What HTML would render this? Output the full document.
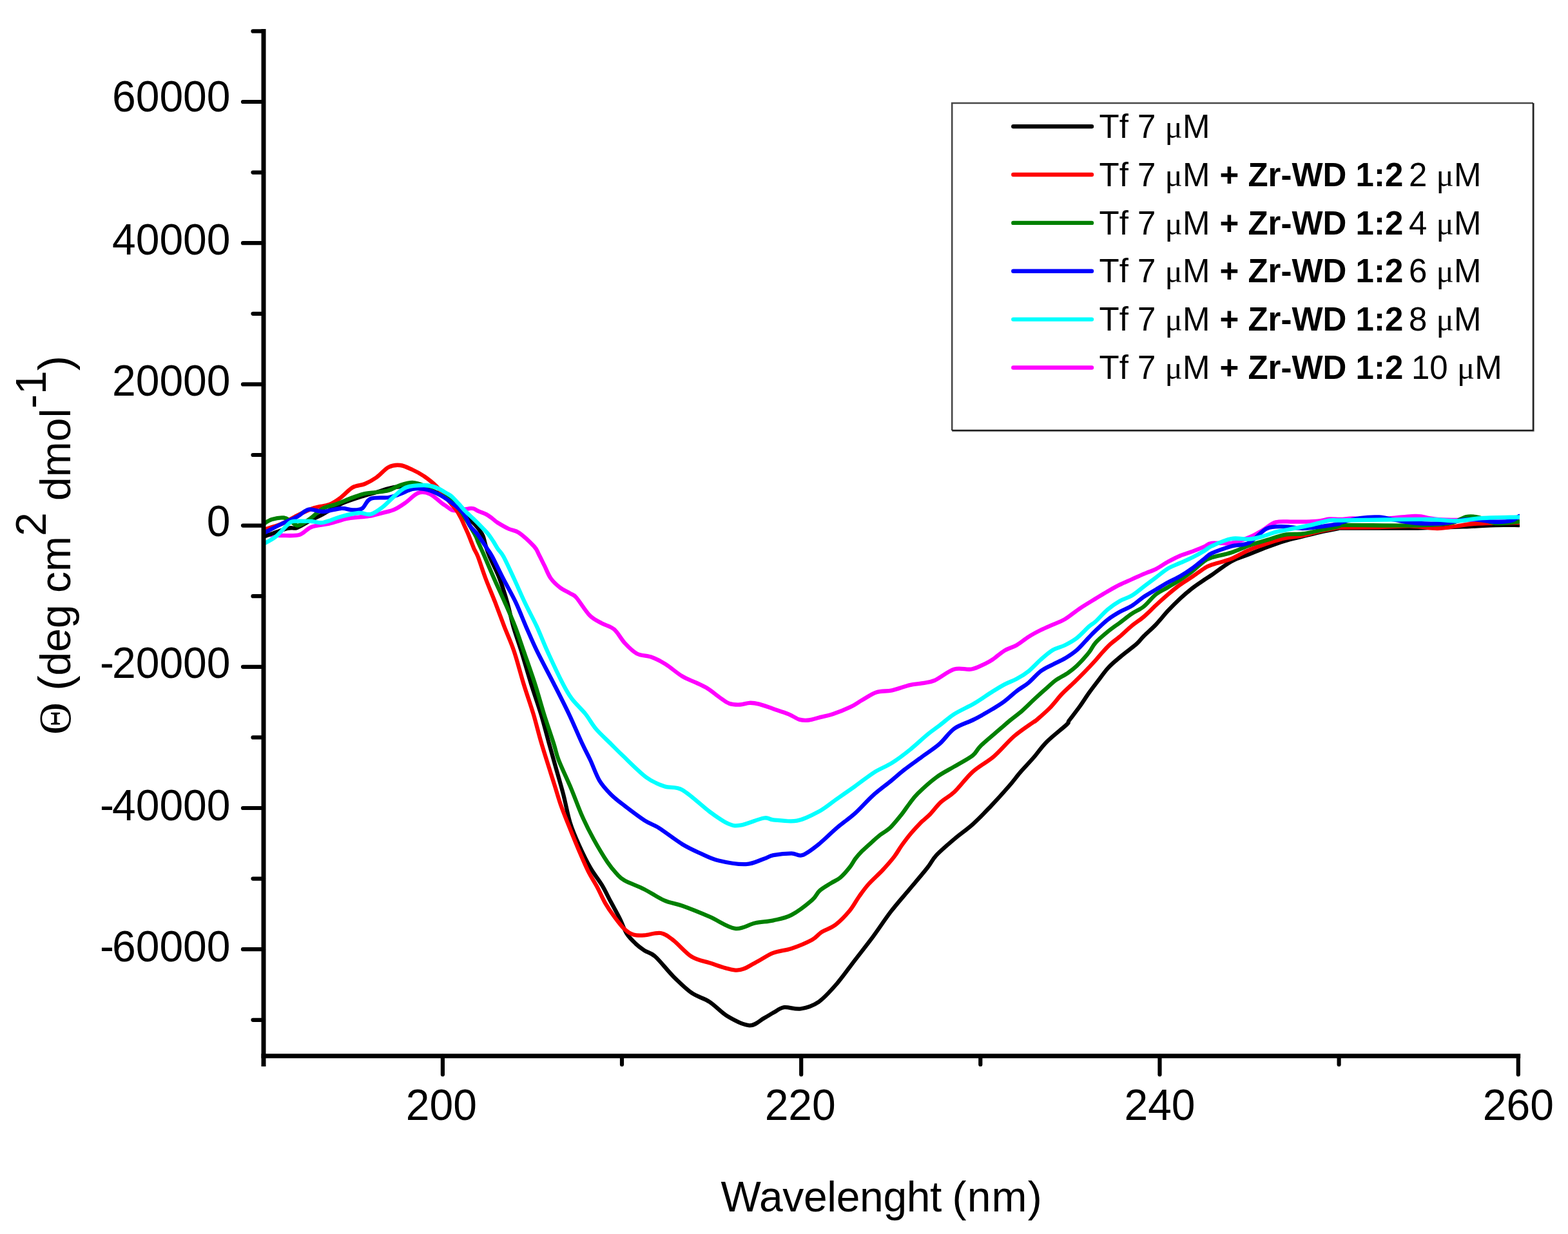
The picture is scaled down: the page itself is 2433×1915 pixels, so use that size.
<!DOCTYPE html><html><head><meta charset="utf-8"><title>CD spectra</title><style>
html,body{margin:0;padding:0;background:#fff;}
body{width:2433px;height:1915px;overflow:hidden;}
svg{display:block;}
.t{font-family:"Liberation Sans",Arial,sans-serif;fill:#000;}
.s{font-family:"Liberation Serif","Times New Roman",serif;}
</style></head><body>
<svg width="2433" height="1915" viewBox="0 0 2433 1915">
<rect x="0" y="0" width="2433" height="1915" fill="#fff"/>
<defs><clipPath id="pc"><rect x="409.0" y="45.0" width="1949.0" height="1593.8"/></clipPath></defs>
<g clip-path="url(#pc)" fill="none" stroke-width="6.3" stroke-linejoin="round" stroke-linecap="round">
<path stroke="#ff00ff" d="M409.0,829.0 C411.2,829.2 417.3,830.2 422.0,830.5 C426.7,830.8 429.9,831.1 437.0,831.0 C444.1,830.9 456.8,832.2 464.5,830.0 C472.2,827.8 475.3,820.9 483.0,818.0 C490.7,815.1 501.4,814.9 510.6,812.7 C519.8,810.5 530.3,806.7 538.0,805.0 C545.7,803.3 550.5,803.3 556.7,802.6 C562.9,801.9 568.9,801.8 575.0,800.7 C581.1,799.6 587.3,797.7 593.5,796.0 C599.7,794.3 605.9,793.4 612.0,790.6 C618.1,787.9 623.8,783.8 630.0,779.5 C636.2,775.2 642.8,767.1 649.0,765.0 C655.2,762.9 660.9,763.9 667.0,766.6 C673.1,769.3 681.4,777.8 685.7,781.0 C690.0,784.2 690.2,784.0 692.9,785.8 C695.6,787.6 698.5,790.7 701.7,791.7 C704.9,792.7 707.7,792.4 712.0,792.0 C716.3,791.6 723.5,789.8 727.3,789.3 C731.0,788.8 731.9,788.6 734.5,789.3 C737.1,790.0 739.4,791.9 742.7,793.4 C746.0,794.9 751.0,796.3 754.4,798.1 C757.8,799.9 760.3,801.9 763.2,804.0 C766.1,806.1 767.5,808.2 772.0,811.0 C776.5,813.8 784.4,818.4 790.0,821.0 C795.6,823.6 798.9,822.3 805.4,826.8 C811.9,831.3 823.7,842.5 828.8,848.0 C833.9,853.5 833.2,854.9 835.9,860.0 C838.6,865.1 842.1,872.5 845.2,878.7 C848.3,885.0 850.7,892.0 854.6,897.5 C858.5,903.0 863.6,907.6 868.6,911.5 C873.6,915.4 880.3,918.2 884.6,920.9 C888.9,923.6 889.2,921.7 894.4,927.5 C899.5,933.3 908.9,949.0 915.5,955.6 C922.1,962.2 928.0,963.9 934.2,967.4 C940.5,970.9 947.1,971.6 953.0,976.7 C958.9,981.8 963.5,991.5 969.3,997.8 C975.1,1004.0 981.0,1010.5 988.0,1014.2 C995.0,1017.9 1004.1,1017.3 1011.5,1020.0 C1018.9,1022.7 1024.8,1025.7 1032.6,1030.6 C1040.4,1035.5 1050.4,1044.5 1058.3,1049.3 C1066.2,1054.1 1073.3,1056.2 1080.0,1059.4 C1086.7,1062.6 1092.2,1064.9 1098.4,1068.7 C1104.6,1072.5 1111.4,1078.7 1116.9,1082.5 C1122.4,1086.3 1126.4,1089.9 1131.6,1091.7 C1136.8,1093.5 1143.0,1093.7 1148.2,1093.5 C1153.4,1093.3 1158.1,1091.0 1163.0,1090.8 C1167.9,1090.6 1171.6,1091.1 1177.7,1092.6 C1183.8,1094.1 1192.1,1097.4 1199.8,1100.0 C1207.5,1102.6 1217.0,1105.5 1223.8,1108.3 C1230.6,1111.1 1235.2,1115.1 1240.4,1116.6 C1245.6,1118.1 1249.6,1118.1 1255.1,1117.5 C1260.6,1116.9 1267.3,1114.4 1273.5,1112.9 C1279.7,1111.4 1284.3,1110.9 1292.0,1108.3 C1299.7,1105.7 1311.9,1100.9 1319.6,1097.2 C1327.3,1093.5 1331.2,1090.0 1338.0,1086.2 C1344.8,1082.4 1352.5,1076.7 1360.2,1074.2 C1367.9,1071.7 1375.5,1073.2 1384.1,1071.4 C1392.7,1069.6 1404.1,1064.9 1411.8,1063.1 C1419.5,1061.3 1423.8,1061.6 1430.2,1060.4 C1436.6,1059.2 1441.6,1059.7 1450.0,1056.0 C1458.4,1052.3 1471.1,1041.4 1480.7,1038.5 C1490.3,1035.6 1499.5,1039.9 1507.4,1038.5 C1515.3,1037.1 1522.5,1032.8 1527.9,1030.3 C1533.3,1027.8 1534.9,1027.2 1540.0,1023.7 C1545.1,1020.2 1552.5,1013.4 1558.7,1009.6 C1565.0,1005.9 1571.2,1004.8 1577.5,1001.2 C1583.8,997.6 1590.0,992.0 1596.2,988.1 C1602.4,984.2 1608.7,980.9 1614.9,977.8 C1621.1,974.7 1627.3,972.2 1633.6,969.4 C1639.8,966.6 1645.4,965.1 1652.4,960.9 C1659.4,956.7 1667.5,949.6 1675.4,944.3 C1683.3,939.0 1692.8,933.4 1700.0,929.0 C1707.2,924.6 1712.5,921.3 1718.7,917.7 C1725.0,914.1 1731.2,910.5 1737.5,907.4 C1743.8,904.3 1750.0,901.8 1756.2,899.0 C1762.4,896.2 1768.7,893.2 1774.9,890.6 C1781.1,888.0 1787.3,886.2 1793.6,883.1 C1799.8,880.0 1806.2,875.2 1812.4,871.8 C1818.7,868.4 1824.9,865.1 1831.1,862.5 C1837.3,859.9 1843.6,858.2 1849.8,855.9 C1856.0,853.5 1863.5,850.6 1868.5,848.4 C1873.5,846.2 1873.0,843.7 1880.0,842.8 C1887.0,841.9 1900.9,844.4 1910.6,842.9 C1920.3,841.4 1930.2,837.2 1938.3,833.9 C1946.4,830.6 1952.1,826.8 1959.0,822.9 C1965.9,819.0 1971.6,812.6 1979.7,810.4 C1987.8,808.2 1997.0,809.9 2007.4,809.7 C2017.8,809.5 2032.8,809.7 2042.0,809.0 C2051.2,808.3 2056.4,806.0 2062.7,805.5 C2069.0,805.0 2073.8,806.2 2080.0,806.0 C2086.2,805.8 2091.7,804.4 2100.0,804.5 C2108.3,804.6 2114.2,807.1 2130.0,806.5 C2145.8,805.9 2180.8,801.5 2195.0,801.0 C2209.2,800.5 2209.2,802.7 2215.0,803.5 C2220.8,804.3 2222.5,805.4 2230.0,806.0 C2237.5,806.6 2238.8,807.0 2260.0,807.0 C2281.2,807.0 2340.8,806.2 2357.0,806.0"/>
<path stroke="#000" d="M409.0,833.0 C415.2,830.8 437.3,822.3 446.0,820.0 C454.7,817.7 454.8,821.2 461.0,819.0 C467.2,816.8 476.3,810.5 483.0,807.0 C489.7,803.5 493.3,802.2 501.0,798.0 C508.7,793.8 518.2,786.8 529.0,782.0 C539.8,777.2 556.8,772.0 566.0,769.0 C575.2,766.0 577.8,765.8 584.0,764.0 C590.2,762.2 596.8,759.5 603.0,758.0 C609.2,756.5 614.8,755.7 621.0,755.0 C627.2,754.3 633.8,753.8 640.0,754.0 C646.2,754.2 651.9,754.3 658.0,756.0 C664.1,757.7 670.3,761.0 676.5,764.0 C682.7,767.0 688.9,769.7 695.0,774.0 C701.1,778.3 706.1,783.5 713.0,790.0 C719.9,796.5 731.1,807.8 736.3,813.3 C741.4,818.8 741.7,819.6 743.9,822.7 C746.1,825.8 747.8,827.8 749.5,832.0 C751.2,836.2 752.3,842.7 754.0,848.0 C755.7,853.3 756.2,855.5 759.7,863.7 C763.2,872.0 770.4,885.6 775.0,897.5 C779.6,909.4 783.5,922.4 787.1,934.9 C790.7,947.4 792.9,959.9 796.5,972.4 C800.1,984.9 804.1,995.1 808.7,1009.9 C813.3,1024.7 818.9,1044.7 824.0,1061.0 C829.1,1077.3 834.6,1092.3 839.3,1107.9 C844.0,1123.5 848.5,1141.2 852.2,1154.7 C856.0,1168.2 858.1,1175.8 861.8,1188.8 C865.4,1201.8 870.3,1218.1 874.1,1232.7 C877.9,1247.3 880.5,1263.4 884.6,1276.6 C888.7,1289.8 893.3,1300.0 898.6,1311.7 C903.9,1323.4 910.3,1336.7 916.2,1346.9 C922.1,1357.2 928.5,1364.4 933.8,1373.2 C939.1,1382.0 943.1,1390.8 947.8,1399.6 C952.5,1408.4 957.8,1417.7 961.9,1425.9 C966.0,1434.1 968.3,1442.3 972.4,1448.8 C976.5,1455.2 981.9,1460.2 986.5,1464.6 C991.1,1469.0 995.0,1471.8 1000.0,1475.1 C1005.0,1478.4 1009.3,1477.8 1016.8,1484.5 C1024.3,1491.2 1035.5,1506.0 1044.9,1515.4 C1054.3,1524.8 1063.6,1534.1 1073.0,1540.7 C1082.4,1547.3 1091.7,1548.7 1101.1,1554.8 C1110.5,1560.9 1118.9,1571.2 1129.2,1577.3 C1139.5,1583.4 1153.5,1590.8 1162.9,1591.3 C1172.3,1591.8 1179.2,1583.4 1185.4,1580.1 C1191.6,1576.8 1194.8,1574.4 1200.0,1571.6 C1205.2,1568.8 1209.9,1564.2 1216.9,1563.2 C1223.9,1562.2 1233.3,1566.9 1242.2,1565.5 C1251.1,1564.1 1260.9,1561.3 1270.3,1554.8 C1279.7,1548.3 1289.0,1537.5 1298.4,1526.7 C1307.8,1515.9 1317.1,1502.3 1326.5,1490.1 C1335.9,1477.9 1345.2,1466.2 1354.6,1453.6 C1364.0,1440.9 1373.3,1426.4 1382.7,1414.2 C1392.1,1402.0 1401.4,1391.7 1410.8,1380.5 C1420.2,1369.3 1431.9,1355.7 1438.9,1346.8 C1445.9,1337.9 1446.0,1334.6 1453.0,1327.1 C1460.0,1319.6 1471.7,1309.8 1481.1,1301.8 C1490.5,1293.8 1499.8,1287.7 1509.2,1279.3 C1518.6,1270.9 1527.9,1261.0 1537.3,1251.2 C1546.7,1241.4 1557.8,1229.1 1565.4,1220.3 C1573.1,1211.5 1576.8,1205.8 1583.2,1198.4 C1589.6,1191.0 1596.9,1183.7 1603.7,1175.8 C1610.5,1167.9 1615.7,1159.7 1624.2,1151.2 C1632.7,1142.7 1649.1,1130.1 1654.9,1124.6 C1660.7,1119.1 1655.4,1123.0 1658.9,1118.2 C1662.4,1113.4 1670.7,1103.0 1675.8,1095.8 C1680.9,1088.6 1685.1,1081.8 1689.8,1075.2 C1694.5,1068.6 1698.9,1063.0 1703.9,1056.4 C1708.9,1049.8 1714.0,1042.2 1720.0,1035.8 C1726.0,1029.4 1732.7,1024.1 1740.0,1018.0 C1747.3,1011.9 1757.9,1004.4 1763.7,999.2 C1769.5,994.0 1769.9,992.0 1774.9,987.0 C1779.9,982.0 1787.3,975.8 1793.6,969.2 C1799.8,962.7 1806.2,954.4 1812.4,947.7 C1818.7,941.0 1824.9,934.8 1831.1,929.0 C1837.3,923.2 1843.6,917.9 1849.8,913.0 C1856.0,908.1 1863.5,903.3 1868.5,899.9 C1873.5,896.5 1873.0,897.2 1880.0,892.4 C1887.0,887.6 1900.9,876.6 1910.6,871.2 C1920.3,865.8 1929.1,863.9 1938.3,860.2 C1947.5,856.5 1956.7,852.6 1965.9,849.1 C1975.1,845.6 1984.4,842.2 1993.6,839.4 C2002.8,836.6 2012.0,834.8 2021.2,832.5 C2030.4,830.2 2039.7,827.7 2048.9,825.6 C2058.1,823.5 2071.3,821.1 2076.5,820.1 C2081.7,819.1 2059.4,819.6 2080.0,819.5 C2100.6,819.4 2166.7,819.9 2200.0,819.5 C2233.3,819.1 2260.0,817.8 2280.0,817.0 C2300.0,816.2 2307.2,815.3 2320.0,815.0 C2332.8,814.7 2350.8,815.0 2357.0,815.0"/>
<path stroke="#ff0000" d="M409.0,822.0 C413.7,820.5 428.3,816.7 437.0,813.0 C445.7,809.3 452.5,804.2 461.0,800.0 C469.5,795.8 479.7,790.8 488.0,788.0 C496.3,785.2 504.2,785.7 511.0,783.0 C517.8,780.3 523.0,776.4 529.0,772.0 C535.0,767.6 540.8,760.0 547.0,756.5 C553.2,753.0 559.8,753.6 566.0,751.0 C572.2,748.4 577.8,745.3 584.0,741.0 C590.2,736.7 596.8,728.2 603.0,725.0 C609.2,721.8 614.8,721.3 621.0,722.0 C627.2,722.7 633.8,726.2 640.0,729.0 C646.2,731.8 651.9,734.8 658.0,739.0 C664.1,743.2 669.5,746.9 676.5,754.0 C683.5,761.1 694.5,775.1 700.0,781.7 C705.5,788.3 706.7,789.5 709.3,793.4 C711.9,797.3 713.8,801.2 715.8,805.1 C717.8,809.0 719.2,812.9 721.0,816.8 C722.8,820.7 724.6,824.6 726.3,828.5 C728.0,832.4 729.4,836.4 731.0,840.3 C732.6,844.2 734.0,848.1 735.7,852.0 C737.5,855.9 738.5,856.1 741.5,863.7 C744.5,871.3 748.9,885.6 753.4,897.5 C757.9,909.4 763.5,922.4 768.4,934.9 C773.2,947.4 777.7,959.9 782.5,972.4 C787.3,984.9 792.4,995.1 797.4,1009.9 C802.4,1024.7 807.4,1044.7 812.4,1061.0 C817.4,1077.3 822.9,1092.3 827.6,1107.9 C832.3,1123.5 835.1,1136.5 840.5,1154.7 C845.9,1172.9 855.0,1201.0 860.0,1216.9 C865.0,1232.8 866.7,1239.5 870.5,1250.3 C874.3,1261.1 878.1,1270.2 882.8,1281.9 C887.5,1293.6 893.6,1308.8 898.6,1320.5 C903.6,1332.2 908.0,1342.7 912.7,1352.1 C917.4,1361.5 922.3,1368.5 926.7,1376.7 C931.1,1384.9 934.6,1393.7 939.0,1401.3 C943.4,1408.9 948.1,1415.7 953.1,1422.4 C958.1,1429.1 963.9,1437.0 968.9,1441.7 C973.9,1446.4 977.8,1448.9 983.0,1450.5 C988.2,1452.1 993.0,1451.8 1000.0,1451.4 C1007.0,1451.0 1017.7,1446.7 1025.2,1448.0 C1032.7,1449.3 1036.9,1453.1 1044.9,1459.2 C1052.9,1465.3 1063.6,1478.7 1073.0,1484.5 C1082.4,1490.3 1089.4,1490.8 1101.1,1494.3 C1112.8,1497.8 1131.6,1505.6 1143.3,1505.6 C1155.0,1505.6 1162.0,1498.8 1171.4,1494.3 C1180.8,1489.8 1190.0,1482.6 1199.5,1478.9 C1209.0,1475.2 1218.0,1475.3 1228.1,1471.9 C1238.2,1468.5 1252.2,1462.6 1260.0,1458.4 C1267.8,1454.2 1268.5,1450.6 1274.6,1446.7 C1280.7,1442.8 1289.3,1440.6 1296.6,1435.0 C1303.9,1429.4 1312.5,1420.3 1318.6,1413.0 C1324.7,1405.7 1328.3,1397.8 1333.2,1391.0 C1338.1,1384.2 1341.7,1378.8 1347.8,1372.0 C1353.9,1365.2 1363.2,1357.1 1369.8,1350.0 C1376.4,1342.9 1382.5,1335.9 1387.4,1329.6 C1392.3,1323.3 1394.7,1318.1 1399.1,1312.0 C1403.5,1305.9 1408.8,1298.8 1413.7,1293.0 C1418.6,1287.2 1423.5,1281.8 1428.4,1276.9 C1433.3,1272.0 1437.7,1269.1 1443.0,1263.7 C1448.3,1258.3 1453.7,1250.4 1460.0,1244.6 C1466.3,1238.8 1472.9,1236.5 1481.1,1228.7 C1489.3,1220.9 1499.0,1207.0 1509.2,1197.8 C1519.4,1188.6 1531.6,1182.9 1542.2,1173.8 C1552.8,1164.7 1562.8,1151.9 1573.0,1143.0 C1583.2,1134.1 1598.0,1124.6 1603.7,1120.5 C1609.4,1116.4 1603.2,1121.9 1607.4,1118.2 C1611.6,1114.5 1622.3,1105.5 1629.0,1098.6 C1635.7,1091.7 1641.5,1083.5 1647.7,1077.0 C1653.9,1070.5 1660.5,1065.1 1666.4,1059.3 C1672.3,1053.5 1677.8,1048.0 1683.3,1042.4 C1688.8,1036.8 1694.8,1030.4 1699.2,1025.5 C1703.7,1020.6 1706.0,1017.4 1710.0,1013.0 C1714.0,1008.6 1718.8,1003.4 1723.4,999.2 C1728.0,995.0 1732.0,992.6 1737.5,987.9 C1743.0,983.2 1750.0,976.2 1756.2,971.1 C1762.4,966.0 1768.7,962.3 1774.9,957.0 C1781.1,951.7 1787.3,945.1 1793.6,939.3 C1799.8,933.5 1806.2,927.7 1812.4,922.4 C1818.7,917.1 1824.9,911.9 1831.1,907.4 C1837.3,902.9 1843.6,899.4 1849.8,895.2 C1856.0,891.0 1863.5,885.2 1868.5,882.1 C1873.5,879.0 1873.0,879.0 1880.0,876.5 C1887.0,874.0 1900.9,871.0 1910.6,867.1 C1920.3,863.2 1929.1,857.2 1938.3,853.3 C1947.5,849.4 1956.7,846.6 1965.9,843.6 C1975.1,840.6 1984.4,837.4 1993.6,835.3 C2002.8,833.2 2012.0,833.1 2021.2,831.2 C2030.4,829.4 2039.7,826.3 2048.9,824.2 C2058.1,822.1 2071.3,819.7 2076.5,818.7 C2081.7,817.8 2069.4,818.6 2080.0,818.5 C2090.6,818.4 2121.7,818.3 2140.0,818.0 C2158.3,817.7 2175.0,816.2 2190.0,816.5 C2205.0,816.8 2218.3,820.0 2230.0,820.0 C2241.7,820.0 2250.8,817.7 2260.0,816.5 C2269.2,815.3 2273.3,813.8 2285.0,813.0 C2296.7,812.2 2318.0,811.8 2330.0,811.5 C2342.0,811.2 2352.5,811.1 2357.0,811.0"/>
<path stroke="#008000" d="M409.0,813.0 C411.2,811.8 416.8,807.6 422.0,806.0 C427.2,804.4 435.6,803.0 440.5,803.5 C445.4,804.0 447.9,807.0 451.6,809.0 C455.3,811.0 457.8,816.2 462.7,815.5 C467.6,814.8 474.6,809.4 481.0,805.0 C487.4,800.6 494.5,792.7 501.0,789.0 C507.5,785.3 512.2,785.8 520.0,783.0 C527.8,780.2 539.8,774.8 547.5,772.0 C555.2,769.2 559.9,767.3 566.0,766.0 C572.1,764.7 577.8,764.8 584.0,764.0 C590.2,763.2 596.8,762.8 603.0,761.0 C609.2,759.2 614.8,755.0 621.0,753.0 C627.2,751.0 633.8,748.8 640.0,749.0 C646.2,749.2 651.9,751.3 658.0,754.0 C664.1,756.7 670.3,761.7 676.5,765.0 C682.7,768.3 688.9,769.7 695.0,774.0 C701.1,778.3 706.1,781.5 713.0,790.6 C719.9,799.7 731.5,820.2 736.3,828.5 C741.0,836.8 739.8,836.4 741.5,840.3 C743.2,844.2 745.0,848.1 746.8,852.0 C748.5,855.9 748.7,856.1 752.0,863.7 C755.3,871.3 761.3,885.6 766.5,897.5 C771.7,909.4 777.9,922.4 783.4,934.9 C788.9,947.4 794.5,959.9 799.3,972.4 C804.1,984.9 807.3,995.1 812.4,1009.9 C817.5,1024.7 824.7,1044.7 830.0,1061.0 C835.3,1077.3 839.1,1092.3 844.0,1107.9 C848.9,1123.5 855.6,1142.7 859.4,1154.7 C863.2,1166.7 862.5,1168.5 867.0,1180.0 C871.5,1191.5 880.1,1209.3 886.3,1223.9 C892.4,1238.5 898.0,1254.6 903.9,1267.8 C909.8,1281.0 915.0,1291.3 921.5,1303.0 C928.0,1314.7 936.8,1329.3 942.6,1338.1 C948.5,1346.9 952.2,1351.0 956.6,1355.7 C961.0,1360.4 961.7,1362.1 968.9,1366.2 C976.1,1370.3 989.7,1375.0 1000.0,1380.2 C1010.3,1385.4 1021.0,1393.1 1030.8,1397.4 C1040.6,1401.7 1047.2,1401.6 1058.9,1405.8 C1070.6,1410.0 1087.5,1416.8 1101.1,1422.7 C1114.7,1428.6 1128.8,1439.3 1140.5,1440.9 C1152.2,1442.5 1161.5,1434.6 1171.4,1432.5 C1181.3,1430.4 1190.5,1430.4 1200.0,1428.3 C1209.5,1426.2 1218.1,1425.1 1228.1,1419.9 C1238.1,1414.7 1252.7,1403.2 1260.0,1396.9 C1267.3,1390.6 1266.8,1386.7 1271.7,1382.3 C1276.6,1377.9 1283.9,1374.0 1289.3,1370.6 C1294.7,1367.2 1299.0,1365.9 1303.9,1361.8 C1308.8,1357.7 1314.7,1350.6 1318.6,1345.7 C1322.5,1340.8 1324.1,1336.7 1327.3,1332.5 C1330.5,1328.3 1333.2,1325.2 1337.6,1320.8 C1342.0,1316.4 1349.1,1310.2 1353.7,1306.1 C1358.3,1301.9 1360.8,1299.6 1365.4,1295.9 C1370.0,1292.2 1375.9,1289.6 1381.5,1284.2 C1387.1,1278.8 1394.2,1269.8 1399.1,1263.7 C1404.0,1257.6 1406.6,1253.0 1410.8,1247.6 C1415.0,1242.2 1417.0,1238.4 1424.0,1231.5 C1431.0,1224.6 1443.5,1213.2 1453.0,1206.2 C1462.5,1199.2 1471.7,1195.0 1481.1,1189.4 C1490.5,1183.8 1502.4,1177.8 1509.2,1172.5 C1516.0,1167.2 1514.5,1164.4 1521.7,1157.4 C1528.9,1150.4 1544.8,1137.4 1552.5,1130.7 C1560.2,1124.0 1562.4,1122.0 1568.1,1117.3 C1573.8,1112.6 1580.6,1107.8 1586.8,1102.3 C1593.0,1096.8 1599.2,1090.3 1605.5,1084.5 C1611.8,1078.7 1618.8,1072.5 1624.3,1067.7 C1629.8,1062.9 1632.8,1059.4 1638.3,1055.5 C1643.8,1051.6 1651.5,1048.0 1657.0,1044.3 C1662.5,1040.5 1665.6,1038.3 1671.1,1033.0 C1676.6,1027.7 1685.0,1018.4 1689.8,1012.4 C1694.6,1006.4 1695.2,1002.6 1700.0,997.3 C1704.8,992.0 1712.5,985.5 1718.7,980.4 C1725.0,975.2 1731.2,971.1 1737.5,966.4 C1743.8,961.7 1750.0,956.6 1756.2,952.4 C1762.4,948.2 1768.7,946.1 1774.9,941.1 C1781.1,936.1 1787.3,927.4 1793.6,922.4 C1799.8,917.4 1806.2,915.0 1812.4,911.2 C1818.7,907.5 1824.9,904.0 1831.1,899.9 C1837.3,895.8 1843.6,891.6 1849.8,886.8 C1856.0,882.0 1863.5,874.5 1868.5,870.9 C1873.5,867.3 1873.0,867.5 1880.0,865.3 C1887.0,863.0 1900.9,860.5 1910.6,857.4 C1920.3,854.2 1929.1,849.6 1938.3,846.4 C1947.5,843.2 1956.7,840.9 1965.9,838.1 C1975.1,835.3 1984.4,831.4 1993.6,829.8 C2002.8,828.2 2012.0,829.5 2021.2,828.4 C2030.4,827.2 2039.7,824.8 2048.9,822.9 C2058.1,821.0 2071.3,818.6 2076.5,817.3 C2081.7,816.0 2059.4,815.3 2080.0,815.0 C2100.6,814.7 2171.7,816.0 2200.0,815.5 C2228.3,815.0 2237.5,814.2 2250.0,812.0 C2262.5,809.8 2267.5,803.5 2275.0,802.0 C2282.5,800.5 2287.5,801.3 2295.0,803.0 C2302.5,804.7 2309.7,810.9 2320.0,812.0 C2330.3,813.1 2350.8,809.9 2357.0,809.5"/>
<path stroke="#0000ff" d="M409.0,827.5 C413.7,825.1 428.3,817.2 437.0,813.0 C445.7,808.8 454.0,805.7 461.0,802.0 C468.0,798.3 472.3,791.9 479.0,790.6 C485.7,789.3 492.7,794.3 501.0,794.0 C509.3,793.7 521.2,789.4 529.0,789.0 C536.8,788.6 542.0,791.5 547.5,791.5 C553.0,791.5 557.4,791.9 562.0,789.0 C566.6,786.1 568.2,776.8 575.0,774.0 C581.8,771.2 595.3,773.2 603.0,772.0 C610.7,770.8 614.8,768.8 621.0,766.6 C627.2,764.4 633.8,760.3 640.0,759.0 C646.2,757.7 651.9,758.0 658.0,759.0 C664.1,760.0 670.3,762.2 676.5,765.0 C682.7,767.8 688.4,771.3 695.0,776.0 C701.6,780.7 711.5,788.5 716.3,793.4 C721.1,798.2 721.8,801.2 724.0,805.1 C726.2,809.0 727.1,812.9 729.8,816.8 C732.5,820.7 737.3,824.6 740.4,828.5 C743.5,832.4 745.9,836.4 748.5,840.3 C751.1,844.2 753.7,848.1 756.2,852.0 C758.8,855.9 759.7,856.1 763.8,863.7 C767.9,871.3 774.5,885.6 780.6,897.5 C786.7,909.4 794.4,922.4 800.3,934.9 C806.2,947.4 810.8,959.9 816.2,972.4 C821.7,984.9 825.8,995.1 833.0,1009.9 C840.2,1024.7 851.0,1044.7 859.3,1061.0 C867.6,1077.3 875.3,1092.3 882.7,1107.9 C890.1,1123.5 898.1,1142.7 903.7,1154.7 C909.3,1166.7 911.8,1170.5 916.2,1180.0 C920.6,1189.5 925.0,1202.8 930.3,1211.6 C935.6,1220.4 941.4,1226.2 947.8,1232.7 C954.2,1239.2 960.2,1243.6 968.9,1250.3 C977.6,1257.0 991.1,1267.3 1000.0,1273.1 C1008.9,1278.9 1012.6,1278.7 1022.4,1284.9 C1032.2,1291.1 1048.1,1303.6 1058.9,1310.2 C1069.7,1316.8 1077.6,1320.1 1087.0,1324.3 C1096.4,1328.5 1103.4,1332.7 1115.1,1335.5 C1126.8,1338.3 1145.6,1341.6 1157.3,1341.1 C1169.0,1340.6 1178.3,1335.0 1185.4,1332.7 C1192.5,1330.4 1192.9,1328.5 1200.0,1327.1 C1207.1,1325.7 1220.6,1324.3 1228.1,1324.3 C1235.6,1324.3 1238.0,1329.4 1245.0,1327.1 C1252.0,1324.8 1261.4,1317.2 1270.3,1310.2 C1279.2,1303.2 1289.0,1292.9 1298.4,1284.9 C1307.8,1276.9 1317.1,1270.8 1326.5,1262.4 C1335.9,1254.0 1345.2,1242.7 1354.6,1234.3 C1364.0,1225.9 1374.7,1218.3 1382.7,1211.8 C1390.7,1205.2 1394.7,1201.2 1402.6,1195.0 C1410.5,1188.8 1421.0,1181.5 1430.2,1174.7 C1439.4,1167.9 1449.5,1161.7 1457.9,1154.4 C1466.3,1147.1 1471.8,1137.0 1480.7,1130.7 C1489.6,1124.4 1501.6,1121.5 1511.5,1116.4 C1521.4,1111.4 1532.1,1105.1 1540.0,1100.4 C1547.9,1095.7 1552.5,1093.0 1558.7,1088.3 C1565.0,1083.6 1571.2,1077.2 1577.5,1072.4 C1583.8,1067.6 1590.0,1064.5 1596.2,1059.3 C1602.4,1054.1 1608.7,1046.2 1614.9,1041.5 C1621.1,1036.8 1627.3,1034.5 1633.6,1031.2 C1639.8,1027.9 1646.2,1025.5 1652.4,1021.8 C1658.7,1018.0 1664.9,1014.2 1671.1,1008.7 C1677.3,1003.2 1685.0,994.0 1689.8,989.0 C1694.6,984.0 1695.2,983.1 1700.0,978.6 C1704.8,974.1 1712.5,966.5 1718.7,961.7 C1725.0,956.9 1731.2,953.2 1737.5,949.6 C1743.8,946.0 1750.0,944.1 1756.2,940.2 C1762.4,936.3 1768.7,930.3 1774.9,926.1 C1781.1,921.9 1787.3,918.6 1793.6,914.9 C1799.8,911.2 1806.2,907.1 1812.4,903.7 C1818.7,900.3 1824.9,897.9 1831.1,894.3 C1837.3,890.7 1843.6,886.6 1849.8,882.1 C1856.0,877.6 1863.5,871.1 1868.5,867.2 C1873.5,863.3 1873.0,862.0 1880.0,858.7 C1887.0,855.5 1900.9,850.5 1910.6,847.7 C1920.3,845.0 1929.1,846.8 1938.3,842.2 C1947.5,837.6 1956.7,824.2 1965.9,820.1 C1975.1,816.0 1984.4,817.3 1993.6,817.3 C2002.8,817.3 2012.0,820.1 2021.2,820.1 C2030.4,820.1 2039.7,818.4 2048.9,817.3 C2058.1,816.1 2071.3,814.2 2076.5,813.2 C2081.7,812.2 2074.4,812.5 2080.0,811.0 C2085.6,809.5 2100.0,805.4 2110.0,804.0 C2120.0,802.6 2130.8,802.0 2140.0,802.5 C2149.2,803.0 2155.0,805.4 2165.0,807.0 C2175.0,808.6 2187.5,811.2 2200.0,812.0 C2212.5,812.8 2226.7,813.0 2240.0,812.0 C2253.3,811.0 2266.7,806.3 2280.0,806.0 C2293.3,805.7 2309.2,809.7 2320.0,810.0 C2330.8,810.3 2338.8,809.5 2345.0,808.0 C2351.2,806.5 2355.0,802.2 2357.0,801.0"/>
<path stroke="#00ffff" d="M409.0,844.0 C412.1,842.2 421.4,837.9 427.6,833.0 C433.8,828.1 441.4,818.6 446.0,814.6 C450.6,810.6 449.1,809.9 455.3,809.0 C461.5,808.1 475.4,808.7 483.0,809.0 C490.6,809.3 493.3,812.2 501.0,811.0 C508.7,809.8 519.7,804.2 529.0,801.7 C538.3,799.2 549.0,796.6 556.7,796.0 C564.4,795.4 568.9,799.5 575.0,798.0 C581.1,796.5 587.3,791.7 593.5,787.0 C599.7,782.3 605.9,775.1 612.0,770.0 C618.1,764.9 622.3,759.3 630.0,756.5 C637.7,753.7 650.2,753.0 658.0,753.0 C665.8,753.0 670.3,754.2 676.5,756.5 C682.7,758.8 691.0,764.4 695.0,766.6 C699.0,768.9 697.7,767.5 700.5,770.0 C703.3,772.5 708.1,777.8 711.7,781.7 C715.3,785.6 718.4,789.5 722.2,793.4 C726.0,797.3 730.5,801.2 734.5,805.1 C738.5,809.0 742.4,812.9 746.2,816.8 C750.0,820.7 754.1,824.6 757.3,828.5 C760.5,832.4 763.0,836.4 765.5,840.3 C768.0,844.2 770.0,848.1 772.6,852.0 C775.2,855.9 777.2,856.1 781.3,863.7 C785.4,871.3 791.9,885.6 797.4,897.5 C802.9,909.4 808.4,922.4 814.3,934.9 C820.2,947.4 827.2,959.9 833.0,972.4 C838.8,984.9 842.3,995.1 849.0,1009.9 C855.7,1024.7 866.9,1048.6 873.3,1061.0 C879.7,1073.4 881.5,1076.7 887.4,1084.5 C893.2,1092.3 902.2,1100.1 908.4,1107.9 C914.6,1115.7 918.2,1123.5 924.8,1131.3 C931.4,1139.1 941.3,1147.8 948.2,1154.7 C955.1,1161.6 957.1,1163.9 966.2,1172.5 C975.3,1181.1 991.9,1198.2 1002.7,1206.2 C1013.5,1214.2 1021.4,1217.0 1030.8,1220.3 C1040.2,1223.6 1047.2,1219.4 1058.9,1225.9 C1070.6,1232.5 1089.4,1250.9 1101.1,1259.6 C1112.8,1268.3 1121.2,1274.4 1129.2,1277.9 C1137.2,1281.4 1139.5,1282.1 1148.9,1280.7 C1158.3,1279.3 1176.9,1270.9 1185.4,1269.5 C1193.9,1268.1 1191.5,1271.6 1200.0,1272.3 C1208.5,1273.0 1224.8,1275.8 1236.5,1273.7 C1248.2,1271.6 1260.0,1265.2 1270.3,1259.6 C1280.6,1254.0 1289.0,1246.5 1298.4,1240.0 C1307.8,1233.5 1316.8,1227.2 1326.5,1220.3 C1336.2,1213.4 1346.9,1204.7 1356.5,1198.6 C1366.1,1192.5 1374.9,1189.7 1384.1,1183.9 C1393.3,1178.1 1402.6,1171.0 1411.8,1163.6 C1421.0,1156.2 1431.7,1145.9 1439.4,1139.6 C1447.1,1133.3 1451.0,1131.0 1457.9,1125.8 C1464.8,1120.6 1471.8,1113.9 1480.7,1108.2 C1489.6,1102.5 1501.6,1097.6 1511.5,1091.8 C1521.4,1086.0 1532.1,1078.2 1540.0,1073.3 C1547.9,1068.3 1552.5,1065.4 1558.7,1062.1 C1565.0,1058.8 1571.2,1057.0 1577.5,1053.6 C1583.8,1050.2 1590.0,1046.5 1596.2,1041.5 C1602.4,1036.5 1608.7,1029.2 1614.9,1023.7 C1621.1,1018.2 1627.3,1012.5 1633.6,1008.7 C1639.8,1005.0 1646.2,1004.3 1652.4,1001.2 C1658.7,998.1 1664.9,994.8 1671.1,990.0 C1677.3,985.2 1685.0,976.5 1689.8,972.2 C1694.6,968.0 1695.2,968.9 1700.0,964.5 C1704.8,960.1 1712.5,951.1 1718.7,945.8 C1725.0,940.5 1731.2,936.3 1737.5,932.7 C1743.8,929.1 1750.0,928.0 1756.2,924.3 C1762.4,920.5 1768.7,914.9 1774.9,910.2 C1781.1,905.5 1787.3,900.9 1793.6,896.2 C1799.8,891.5 1806.2,885.9 1812.4,882.1 C1818.7,878.4 1824.9,876.5 1831.1,873.7 C1837.3,870.9 1843.6,868.4 1849.8,865.3 C1856.0,862.2 1863.5,858.0 1868.5,855.0 C1873.5,852.0 1873.0,850.7 1880.0,847.5 C1887.0,844.3 1900.9,837.8 1910.6,836.0 C1920.3,834.2 1930.2,837.3 1938.3,836.7 C1946.4,836.1 1952.1,834.4 1959.0,832.5 C1965.9,830.6 1972.8,827.4 1979.7,825.6 C1986.6,823.8 1991.3,823.3 2000.5,821.5 C2009.7,819.7 2024.6,816.9 2035.0,814.6 C2045.4,812.3 2055.2,808.9 2062.7,807.7 C2070.2,806.5 2065.4,807.7 2080.0,807.5 C2094.6,807.3 2126.7,806.8 2150.0,806.5 C2173.3,806.2 2201.7,805.7 2220.0,806.0 C2238.3,806.3 2246.7,808.8 2260.0,808.5 C2273.3,808.2 2283.8,805.0 2300.0,804.0 C2316.2,803.0 2347.5,802.8 2357.0,802.5"/>
</g>
<g stroke="#000" fill="none">
<line x1="409.0" y1="45.0" x2="409.0" y2="1655" stroke-width="7.0"/>
<line x1="405.5" y1="1638.8" x2="2359.2" y2="1638.8" stroke-width="7.0"/>
<line x1="392.5" y1="1582.8" x2="409.0" y2="1582.8" stroke-width="6.2" stroke-linecap="round"/>
<line x1="377" y1="1473.2" x2="409.0" y2="1473.2" stroke-width="6.2" stroke-linecap="round"/>
<line x1="392.5" y1="1363.6" x2="409.0" y2="1363.6" stroke-width="6.2" stroke-linecap="round"/>
<line x1="377" y1="1254.0" x2="409.0" y2="1254.0" stroke-width="6.2" stroke-linecap="round"/>
<line x1="392.5" y1="1144.4" x2="409.0" y2="1144.4" stroke-width="6.2" stroke-linecap="round"/>
<line x1="377" y1="1034.8" x2="409.0" y2="1034.8" stroke-width="6.2" stroke-linecap="round"/>
<line x1="392.5" y1="925.2" x2="409.0" y2="925.2" stroke-width="6.2" stroke-linecap="round"/>
<line x1="377" y1="815.6" x2="409.0" y2="815.6" stroke-width="6.2" stroke-linecap="round"/>
<line x1="392.5" y1="706.0" x2="409.0" y2="706.0" stroke-width="6.2" stroke-linecap="round"/>
<line x1="377" y1="596.4" x2="409.0" y2="596.4" stroke-width="6.2" stroke-linecap="round"/>
<line x1="392.5" y1="486.8" x2="409.0" y2="486.8" stroke-width="6.2" stroke-linecap="round"/>
<line x1="377" y1="377.2" x2="409.0" y2="377.2" stroke-width="6.2" stroke-linecap="round"/>
<line x1="392.5" y1="267.6" x2="409.0" y2="267.6" stroke-width="6.2" stroke-linecap="round"/>
<line x1="377" y1="158.0" x2="409.0" y2="158.0" stroke-width="6.2" stroke-linecap="round"/>
<line x1="392.5" y1="48.4" x2="409.0" y2="48.4" stroke-width="6.2" stroke-linecap="round"/>
<line x1="686.9" y1="1638.8" x2="686.9" y2="1667.5" stroke-width="6.2" stroke-linecap="round"/>
<line x1="965.0" y1="1638.8" x2="965.0" y2="1652" stroke-width="6.2" stroke-linecap="round"/>
<line x1="1243.2" y1="1638.8" x2="1243.2" y2="1667.5" stroke-width="6.2" stroke-linecap="round"/>
<line x1="1521.3" y1="1638.8" x2="1521.3" y2="1652" stroke-width="6.2" stroke-linecap="round"/>
<line x1="1799.5" y1="1638.8" x2="1799.5" y2="1667.5" stroke-width="6.2" stroke-linecap="round"/>
<line x1="2077.6" y1="1638.8" x2="2077.6" y2="1652" stroke-width="6.2" stroke-linecap="round"/>
<line x1="2355.8" y1="1638.8" x2="2355.8" y2="1667.5" stroke-width="6.2" stroke-linecap="round"/>
</g>
<g class="t" font-size="66" text-anchor="end">
<text x="357.5" y="173.5" transform="matrix(1 0 0 1.04 0 -6.94)">60000</text>
<text x="357.5" y="395.2" transform="matrix(1 0 0 1.04 0 -15.81)">40000</text>
<text x="357.5" y="614.5" transform="matrix(1 0 0 1.04 0 -24.58)">20000</text>
<text x="357.5" y="831.9" transform="matrix(1 0 0 1.04 0 -33.28)">0</text>
<text x="357.5" y="1051.9" transform="matrix(1 0 0 1.04 0 -42.08)">-<tspan dx="-3">20000</tspan></text>
<text x="357.5" y="1273.2" transform="matrix(1 0 0 1.04 0 -50.93)">-<tspan dx="-3">40000</tspan></text>
<text x="357.5" y="1491.6" transform="matrix(1 0 0 1.04 0 -59.66)">-<tspan dx="-3">60000</tspan></text>
</g>
<g class="t" font-size="66" text-anchor="middle">
<text x="684.9" y="1738" transform="matrix(1 0 0 1.04 0 -69.52)">200</text>
<text x="1241.7" y="1738" transform="matrix(1 0 0 1.04 0 -69.52)">220</text>
<text x="1799.5" y="1738" transform="matrix(1 0 0 1.04 0 -69.52)">240</text>
<text x="2355.8" y="1738" transform="matrix(1 0 0 1.04 0 -69.52)">260</text>
</g>
<text class="t" font-size="66" y="1879.5"><tspan x="1118.5" letter-spacing="-0.35">Wavelenght</tspan><tspan x="1477.5" letter-spacing="1.2">(nm)</tspan></text>
<g transform="translate(108.8,1140) rotate(-90)">
<text class="t" font-size="66" x="0" y="0"><tspan class="s" font-size="69">&#920;</tspan><tspan> </tspan><tspan font-size="70">(</tspan><tspan>deg cm</tspan><tspan dy="-38">2</tspan><tspan dy="38"> dmol</tspan><tspan dy="-38">-1</tspan><tspan dy="38" font-size="70">)</tspan></text>
</g>
<line x1="1477.2" y1="669.6" x2="2380.6" y2="669.6" stroke="#c8c8c8" stroke-width="1.6"/>
<line x1="2380.6" y1="160.0" x2="2380.6" y2="669.6" stroke="#c8c8c8" stroke-width="1.6"/>
<path d="M1477.2,668.0 L1477.2,160.0 L2379.0,160.0" fill="none" stroke="#474747" stroke-width="2.6"/>
<path d="M2379.0,160.0 L2379.0,668.0 L1477.2,668.0" fill="none" stroke="#1c1c1c" stroke-width="2.4"/>
<line x1="1572.3" y1="196.2" x2="1694" y2="196.2" stroke="#000" stroke-width="6.4" stroke-linecap="round"/>
<text class="t" font-size="51" x="1705.5" y="213.8">Tf 7 <tspan class="s">&#956;</tspan>M</text>
<line x1="1572.3" y1="271.0" x2="1694" y2="271.0" stroke="#ff0000" stroke-width="6.4" stroke-linecap="round"/>
<text class="t" font-size="51" x="1705.5" y="288.6">Tf 7 <tspan class="s">&#956;</tspan>M</text>
<text class="t" font-size="51" font-weight="bold" x="1892.5" y="288.6">+ Zr-WD 1:2</text>
<text class="t" font-size="51" x="2186" y="288.6">2 <tspan class="s">&#956;</tspan>M</text>
<line x1="1572.3" y1="345.9" x2="1694" y2="345.9" stroke="#008000" stroke-width="6.4" stroke-linecap="round"/>
<text class="t" font-size="51" x="1705.5" y="363.5">Tf 7 <tspan class="s">&#956;</tspan>M</text>
<text class="t" font-size="51" font-weight="bold" x="1892.5" y="363.5">+ Zr-WD 1:2</text>
<text class="t" font-size="51" x="2186" y="363.5">4 <tspan class="s">&#956;</tspan>M</text>
<line x1="1572.3" y1="420.8" x2="1694" y2="420.8" stroke="#0000ff" stroke-width="6.4" stroke-linecap="round"/>
<text class="t" font-size="51" x="1705.5" y="438.3">Tf 7 <tspan class="s">&#956;</tspan>M</text>
<text class="t" font-size="51" font-weight="bold" x="1892.5" y="438.3">+ Zr-WD 1:2</text>
<text class="t" font-size="51" x="2186" y="438.3">6 <tspan class="s">&#956;</tspan>M</text>
<line x1="1572.3" y1="495.6" x2="1694" y2="495.6" stroke="#00ffff" stroke-width="6.4" stroke-linecap="round"/>
<text class="t" font-size="51" x="1705.5" y="513.1">Tf 7 <tspan class="s">&#956;</tspan>M</text>
<text class="t" font-size="51" font-weight="bold" x="1892.5" y="513.1">+ Zr-WD 1:2</text>
<text class="t" font-size="51" x="2186" y="513.1">8 <tspan class="s">&#956;</tspan>M</text>
<line x1="1572.3" y1="570.5" x2="1694" y2="570.5" stroke="#ff00ff" stroke-width="6.4" stroke-linecap="round"/>
<text class="t" font-size="51" x="1705.5" y="588.0">Tf 7 <tspan class="s">&#956;</tspan>M</text>
<text class="t" font-size="51" font-weight="bold" x="1892.5" y="588.0">+ Zr-WD 1:2</text>
<text class="t" font-size="51" x="2190" y="588.0">10 <tspan class="s">&#956;</tspan>M</text>
</svg></body></html>
